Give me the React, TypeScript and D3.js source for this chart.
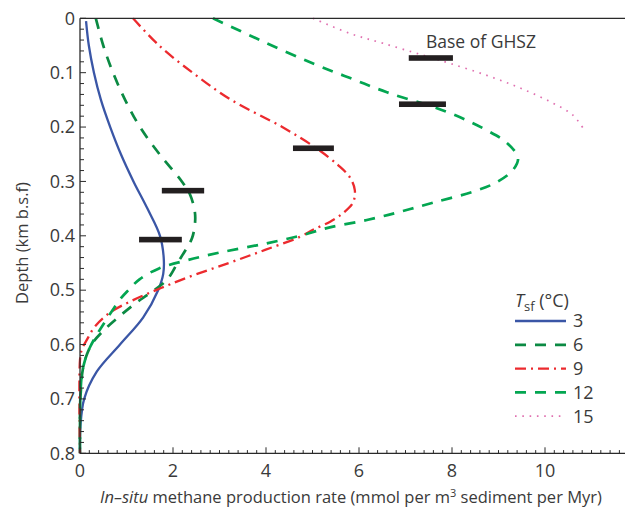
import React from "react";
import * as d3 from "d3";

// ---- data ----
const xTickValues = [0, 2, 4, 6, 8, 10];
const yTickValues = [0, 0.1, 0.2, 0.3, 0.4, 0.5, 0.6, 0.7, 0.8];

const t3Depth = [0.005, 0.05, 0.1, 0.15, 0.2, 0.25, 0.3, 0.35, 0.4, 0.44, 0.47, 0.5, 0.55, 0.6, 0.65, 0.7, 0.75, 0.8];
const t3Rate = [0.13, 0.19, 0.3, 0.45, 0.65, 0.88, 1.15, 1.45, 1.72, 1.8, 1.79, 1.68, 1.36, 0.86, 0.36, 0.09, 0.01, 0];

const t6Depth = [0, 0.05, 0.1, 0.15, 0.2, 0.251, 0.3, 0.325, 0.356, 0.38, 0.404, 0.422, 0.448, 0.481, 0.505, 0.525, 0.55, 0.573, 0.596, 0.618, 0.646, 0.683, 0.72, 0.8];
const t6Rate = [0.34, 0.5, 0.71, 0.97, 1.29, 1.72, 2.19, 2.37, 2.47, 2.47, 2.41, 2.3, 2.11, 1.87, 1.51, 1.18, 0.82, 0.52, 0.28, 0.15, 0.06, 0.02, 0, 0];

const t9Depth = [0, 0.05, 0.1, 0.15, 0.2, 0.24, 0.27, 0.292, 0.316, 0.339, 0.358, 0.374, 0.389, 0.402, 0.426, 0.45, 0.477, 0.499, 0.52, 0.541, 0.567, 0.591, 0.609, 0.628, 0.8];
const t9Rate = [1.14, 1.7, 2.42, 3.25, 4.35, 5.1, 5.55, 5.8, 5.91, 5.87, 5.66, 5.38, 5.01, 4.73, 3.98, 3.2, 2.3, 1.66, 1.1, 0.65, 0.32, 0.15, 0.04, 0, 0];

const t12Depth = [0, 0.04, 0.081, 0.11, 0.136, 0.172, 0.206, 0.229, 0.257, 0.279, 0.301, 0.319, 0.339, 0.356, 0.371, 0.385, 0.4, 0.415, 0.43, 0.445, 0.46, 0.48, 0.5, 0.517, 0.55, 0.578, 0.604, 0.628, 0.655, 0.692, 0.738, 0.8];
const t12Rate = [2.86, 3.87, 4.95, 5.81, 6.6, 7.89, 8.75, 9.18, 9.42, 9.31, 8.97, 8.45, 7.59, 6.88, 6.17, 5.35, 4.73, 3.95, 3.05, 2.3, 1.7, 1.28, 1.04, 0.86, 0.6, 0.39, 0.22, 0.11, 0.04, 0.01, 0, 0];

const t15Depth = [0, 0.028, 0.046, 0.068, 0.083, 0.105, 0.128, 0.156, 0.178, 0.202];
const t15Rate = [5.01, 5.81, 6.52, 7.38, 7.96, 8.75, 9.46, 10.17, 10.6, 10.82];

// Base of GHSZ markers (depth, left rate, right rate)
const ghszDepth = [0.317, 0.407, 0.239, 0.158, 0.073];
const ghszLeft = [1.76, 1.27, 4.58, 6.86, 7.07];
const ghszRight = [2.67, 2.19, 5.46, 7.87, 8.02];

const legendLabels = ["3", "6", "9", "12", "15"];

// ---- styles ----
const seriesStyles = [
  { color: "#3a56a6", width: 2.3, dash: "" },
  { color: "#0b8a43", width: 2.7, dash: "11 9" },
  { color: "#ec2a2e", width: 2.3, dash: "11 5 2 5" },
  { color: "#03a651", width: 2.7, dash: "11 9" },
  { color: "#e070b0", width: 1.7, dash: "1.6 5.7" },
];

const FONT = "'Open Sans', sans-serif";
const TEXT = "#3a3a3a";
const AXIS = "#2a2a2a";

export default function App() {
  const W = 625;
  const H = 508;
  const x = d3.scaleLinear().domain([0, 10]).range([80, 545]);
  const y = d3.scaleLinear().domain([0, 0.8]).range([18.3, 453.3]);
  const xEnd = 625;

  const series = [
    { d: t3Depth, r: t3Rate },
    { d: t6Depth, r: t6Rate },
    { d: t9Depth, r: t9Rate },
    { d: t12Depth, r: t12Rate },
    { d: t15Depth, r: t15Rate },
  ];

  const line = d3
    .line<[number, number]>()
    .x((p) => Math.max(80, x(p[0])))
    .y((p) => y(p[1]))
    .curve(d3.curveCatmullRom.alpha(0.5));

  const xMinor = d3.range(0, 11.7, 0.2);
  const yMinor = d3.range(0, 0.8001, 0.02);

  const legendX0 = 515;
  const legendX1 = 566;
  const legendY0 = 321;
  const legendStep = 23.8;

  return (
    <svg
      width={W}
      height={H}
      style={{ position: "absolute", left: 0, top: 0, background: "#fff" }}
      fontFamily={FONT}
    >
      {/* curves */}
      <g fill="none" strokeLinejoin="round">
        {series.map((s, i) => (
          <path
            key={i}
            d={line(s.r.map((v, k) => [v, s.d[k]] as [number, number])) || ""}
            stroke={seriesStyles[i].color}
            strokeWidth={seriesStyles[i].width}
            strokeDasharray={seriesStyles[i].dash || undefined}
          />
        ))}
      </g>

      {/* GHSZ bars */}
      {ghszDepth.map((dv, i) => (
        <rect
          key={i}
          x={x(ghszLeft[i])}
          y={y(dv) - 2.8}
          width={x(ghszRight[i]) - x(ghszLeft[i])}
          height={5.6}
          fill="#231f20"
        />
      ))}
      <text x={426} y={48} fontSize={17.5} fill={TEXT}>
        Base of GHSZ
      </text>

      {/* axes */}
      <g stroke={AXIS} strokeWidth={1.3} fill="none">
        <line x1={80} x2={xEnd} y1={y(0)} y2={y(0)} />
        <line x1={80} x2={xEnd} y1={y(0.8)} y2={y(0.8)} />
        <line x1={80} x2={80} y1={y(0)} y2={y(0.8)} />
      </g>
      <g stroke={AXIS} strokeWidth={1}>
        {xMinor.map((v, i) => {
          const major = Math.abs(v / 2 - Math.round(v / 2)) < 1e-6;
          return (
            <line
              key={i}
              x1={x(v)}
              x2={x(v)}
              y1={y(0.8)}
              y2={y(0.8) - (major ? 6 : 3.2)}
            />
          );
        })}
        {yMinor.map((v, i) => {
          const major = Math.abs(v * 10 - Math.round(v * 10)) < 1e-6;
          return (
            <line
              key={i}
              x1={80}
              x2={80 + (major ? 6 : 4)}
              y1={y(v)}
              y2={y(v)}
            />
          );
        })}
      </g>

      {/* tick labels */}
      <g fontSize={18} fill={TEXT}>
        {xTickValues.map((v) => (
          <text key={v} x={x(v)} y={477} textAnchor="middle">
            {v}
          </text>
        ))}
        {yTickValues.map((v) => (
          <text key={v} x={75} y={y(v)} dy="0.35em" textAnchor="end">
            {v === 0 ? "0" : v.toFixed(1)}
          </text>
        ))}
      </g>

      {/* axis titles */}
      <text
        transform={`translate(28,${243}) rotate(-90)`}
        textAnchor="middle"
        fontSize={16.5}
        fill={TEXT}
      >
        Depth (km b.s.f)
      </text>
      <text x={351} y={503} textAnchor="middle" fontSize={16.5} fill={TEXT}>
        <tspan fontStyle="italic">In–situ</tspan>
        <tspan> methane production rate (mmol per m</tspan>
        <tspan fontSize={11} dy={-6}>3</tspan>
        <tspan dy={6}> sediment per Myr)</tspan>
      </text>

      {/* legend */}
      <text x={legendX0} y={307} fontSize={18} fill={TEXT}>
        <tspan fontStyle="italic">T</tspan>
        <tspan fontSize={13} dy={4}>sf</tspan>
        <tspan dy={-4}> (°C)</tspan>
      </text>
      {legendLabels.map((lab, i) => {
        const yy = legendY0 + i * legendStep;
        const st = seriesStyles[i];
        return (
          <g key={lab}>
            <line
              x1={legendX0}
              x2={legendX1}
              y1={yy}
              y2={yy}
              stroke={st.color}
              strokeWidth={st.width}
              strokeDasharray={st.dash || undefined}
            />
            <text x={legendX1 + 7} y={yy} dy="0.36em" fontSize={18} fill={TEXT}>
              {lab}
            </text>
          </g>
        );
      })}
    </svg>
  );
}
